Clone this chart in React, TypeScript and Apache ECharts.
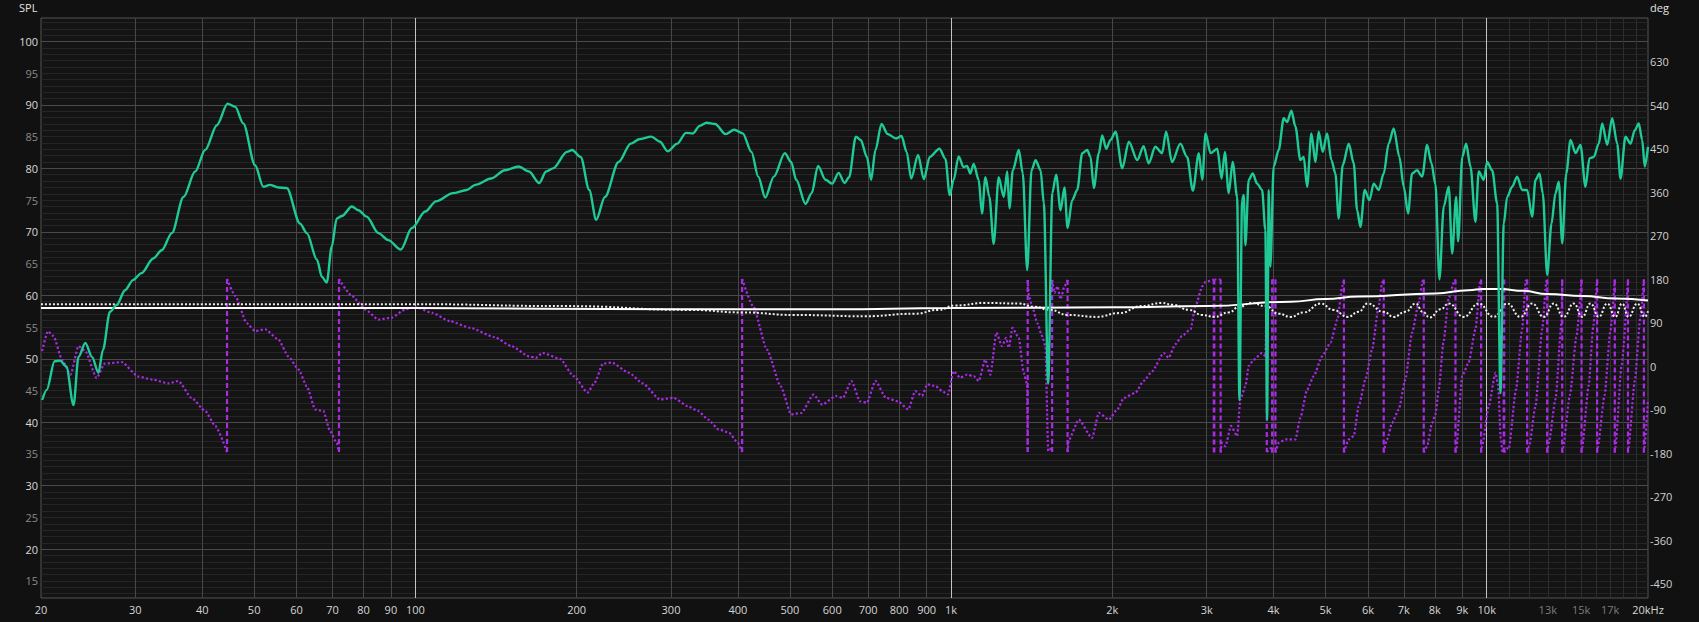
import React, { useEffect, useRef } from "react";
import * as echarts from "echarts";

// SPL magnitude curve: [frequency Hz, dB]
const splPoints: [number, number][] = [
  [20.1, 43.5], [20.5, 45.1], [21.2, 49.6], [21.7, 49.7], [22.3, 48.8], [23.0, 42.7], [23.5, 50.3],
  [24.2, 52.5], [24.9, 50.3], [25.6, 47.8], [26.1, 51.4], [26.9, 57.4], [27.7, 58.5], [28.7, 60.8],
  [29.7, 62.4], [30.8, 63.5], [32.4, 65.8], [33.6, 67.1], [35.1, 69.8], [36.9, 75.5], [38.8, 79.5],
  [40.5, 82.9], [42.6, 86.8], [44.6, 90.2], [46.1, 89.7], [47.7, 87.1], [50.2, 80.5], [52.0, 77.1],
  [53.5, 77.4], [55.5, 77.0], [57.5, 76.9], [60.9, 71.3], [62.7, 69.8], [65.5, 65.6], [66.9, 62.9],
  [68.3, 62.0], [69.8, 67.7], [71.3, 72.1], [72.9, 72.5], [76.1, 74.0], [78.3, 73.4], [81.1, 72.4],
  [85.3, 69.8], [89.0, 68.7], [93.9, 67.2], [98.5, 70.6], [104.3, 73.2], [109.2, 74.8], [117.5, 76.1],
  [124.7, 76.6], [129.4, 77.4], [138.4, 78.4], [146.9, 79.7], [155.8, 80.3], [162.9, 79.5], [170.3, 77.7],
  [175.4, 79.5], [180.7, 80.0], [191.8, 82.6], [196.1, 82.9], [203.5, 81.8], [211.1, 76.6], [217.5, 71.9],
  [225.8, 75.5], [239.5, 81.0], [252.3, 83.9], [261.8, 84.6], [275.7, 85.0], [286.1, 84.2], [295.7, 82.7],
  [308.2, 83.9], [319.9, 85.6], [329.5, 85.5], [339.4, 86.7], [349.6, 87.2], [362.8, 87.0], [379.2, 85.4],
  [393.7, 86.1], [408.5, 85.5], [423.9, 82.6], [436.6, 78.7], [449.8, 75.4], [466.8, 78.7], [489.4, 82.4],
  [502.8, 81.0], [513.9, 78.2], [534.9, 74.4], [549.3, 76.1], [564.4, 80.4], [583, 78.2], [600, 77.6],
  [616.7, 79.3], [632.6, 77.7], [645, 78.6], [664.2, 85.0], [678.1, 84.5], [696.4, 81.8], [709.1, 78.2],
  [722.5, 82.9], [741.4, 87.0], [761.4, 85.4], [790, 84.7], [808, 85.1], [826.2, 82.6], [842.4, 78.4],
  [867.7, 82.1], [889.6, 78.3], [912.5, 81.8], [951, 83.1], [976, 81.5], [994, 75.8], [1011, 78.2],
  [1033, 81.9], [1055, 80.2], [1071, 80.4], [1086, 79.2], [1102, 80.7], [1126, 78.2], [1142, 72.9],
  [1159, 78.6], [1179, 75.5], [1201, 68.1], [1227, 78.6], [1254, 75.5], [1273, 79.5], [1285, 73.7],
  [1304, 79.7], [1338, 82.9], [1361, 79.2], [1387, 64.0], [1413, 79.7], [1438, 81.3], [1469, 79.7],
  [1490, 74.5], [1518, 46.1], [1545, 76.1], [1571, 79.0], [1601, 73.4], [1628, 77.0], [1650, 70.6],
  [1683, 75.0], [1720, 76.6], [1757, 82.4], [1795, 82.9], [1821, 81.8], [1847, 76.9], [1887, 82.4],
  [1915, 85.2], [1948, 83.1], [1985, 84.5], [2028, 85.8], [2087, 80.0], [2147, 84.2], [2226, 81.3],
  [2288, 83.5], [2338, 80.8], [2406, 83.4], [2477, 82.4], [2520, 85.8], [2585, 81.0], [2679, 83.9],
  [2758, 81.8], [2827, 76.5], [2901, 82.4], [2944, 78.2], [2986, 85.5], [3051, 82.4], [3140, 83.1],
  [3199, 78.4], [3244, 82.6], [3298, 76.1], [3355, 81.0], [3420, 75.5], [3454, 43.5], [3494, 75.0],
  [3518, 75.8], [3544, 67.9], [3594, 78.2], [3657, 79.2], [3727, 77.6], [3807, 76.6], [3861, 70.3],
  [3890, 40.4], [3917, 76.6], [3945, 64.5], [4002, 80.3], [4089, 82.9], [4178, 87.9], [4239, 87.3],
  [4318, 89.1], [4393, 86.6], [4488, 81.3], [4553, 81.8], [4620, 77.1], [4706, 85.5], [4788, 81.0],
  [4856, 85.8], [4940, 82.6], [5035, 85.5], [5129, 81.3], [5217, 79.2], [5292, 72.1], [5384, 80.5],
  [5526, 83.9], [5645, 80.8], [5728, 73.4], [5810, 70.8], [5918, 76.6], [6039, 75.0], [6152, 77.6],
  [6285, 76.6], [6422, 79.2], [6560, 83.9], [6703, 86.3], [6869, 81.8], [7000, 77.1], [7131, 72.9],
  [7254, 79.2], [7412, 79.7], [7575, 78.7], [7739, 83.7], [7884, 80.8], [8021, 77.5], [8160, 62.5],
  [8312, 74.0], [8493, 77.1], [8618, 66.6], [8767, 75.5], [8843, 68.5], [9000, 81.8], [9152, 83.9],
  [9324, 80.3], [9526, 71.6], [9662, 79.5], [9872, 78.2], [10017, 81.0], [10235, 79.7], [10457, 74.5],
  [10607, 44.6], [10758, 71.3], [10917, 75.5], [11153, 77.1], [11396, 78.7], [11642, 76.6], [11897, 76.6],
  [12156, 72.4], [12330, 78.2], [12543, 79.2], [12723, 76.1], [12966, 63.2], [13208, 71.3], [13438, 76.1],
  [13629, 77.9], [13832, 68.2], [14073, 79.2], [14335, 84.5], [14647, 82.4], [14961, 83.7], [15287, 77.1],
  [15552, 81.6], [15842, 81.8], [16187, 83.9], [16426, 87.1], [16782, 83.7], [17146, 87.9], [17520, 83.9],
  [17770, 78.4], [18155, 85.0], [18551, 83.9], [18894, 86.0], [19222, 87.1], [19505, 84.5], [19724, 80.3],
  [20000, 83.4],
];

// Wrapped phase: [frequency Hz, degrees]; a wrap is two consecutive points at the same frequency
const phasePoints: [number, number][] = [
  [20.1, 31], [20.6, 72], [21.1, 62], [21.9, 13], [22.7, -18], [23.5, 41], [24.2, 31], [25.4, -25],
  [26.3, 5], [28.3, 8], [30.4, -22], [32.3, -28], [34.6, -36], [36.1, -31], [38.2, -66], [40.5, -93],
  [42.3, -124], [44.5, -178], [44.5, 180], [46.1, 145], [48.4, 89], [50.2, 72], [52.4, 76], [55.5, 55],
  [57.9, 20], [60.5, -7], [62.7, -42], [65, -90], [67.3, -93], [69.3, -135], [71.3, -159], [72.0, -178],
  [72.0, 180], [76.1, 145], [80.6, 117], [85.3, 96], [90.3, 100], [95.7, 117], [100, 122], [107.5, 110],
  [115.8, 93], [126.6, 79], [140.4, 60], [151.2, 41], [162.9, 20], [167.7, 17], [172.8, 27], [186.1, 15],
  [197.5, -21], [209.6, -55], [215.9, -35], [224, 5], [232.5, 7], [250.4, -14], [265.7, -36], [286.1, -69],
  [303.6, -66], [322.2, -83], [336.9, -93], [352.2, -111], [368.1, -131], [385, -138], [400, -159],
  [407.3, -178], [407.3, 180], [427, 124], [453.1, 34], [480.8, -42], [502.8, -100], [525.6, -97],
  [553.6, -59], [574.5, -80], [609.6, -62], [628, -66], [651.7, -31], [676, -73], [696.4, -76], [722.5, -31],
  [755.8, -66], [795.9, -73], [832, -90], [857, -52], [882.8, -62], [903, -38], [937, -42], [962, -52],
  [987, -59], [1011, -11], [1040, -24], [1071, -18], [1102, -21], [1126, -31], [1158, 13], [1184, -18],
  [1215, 69], [1245, 41], [1267, 58], [1282, 38], [1302, 79], [1338, 58], [1366, -14], [1387, -38],
  [1390, -178], [1390, 178], [1397, 145], [1417, 124], [1448, 89], [1479, 62], [1500, 41], [1518, -176],
  [1532, -172], [1544, -178], [1544, 178], [1560, 151], [1580, 165], [1601, 138], [1628, 165], [1650, 178],
  [1650, -178], [1660, -152], [1731, -111], [1833, -149], [1887, -97], [1970, -111], [2043, -90],
  [2102, -66], [2210, -55], [2288, -31], [2373, -11], [2494, 27], [2548, 17], [2622, 45], [2699, 62],
  [2799, 76], [2860, 124], [2944, 165], [2986, 174], [3094, 179], [3094, -179], [3100, -179], [3100, 179],
  [3186, 179], [3186, -179], [3199, -159], [3252, -166], [3330, -124], [3420, -145], [3468, -69],
  [3544, -42], [3594, 0], [3673, 13], [3807, 27], [3861, 20], [3885, 178], [3885, -178], [3960, -170],
  [3975, -179], [3975, 179], [3995, 175], [4032, 179], [4032, -179], [4089, -159], [4212, -152],
  [4393, -152], [4488, -107], [4620, -49], [4753, -21], [4928, 20], [5108, 48], [5262, 96], [5375, 165],
  [5412, 179], [5412, -179], [5526, -152], [5645, -145], [5767, -83], [5937, -28], [6109, 34], [6285, 124],
  [6376, 172], [6422, 179], [6422, -179], [6515, -152], [6656, -118], [6849, -90], [7048, -28], [7254, 69],
  [7466, 131], [7595, 176], [7628, 179], [7628, -179], [7739, -166], [7905, -118], [8021, -100],
  [8135, -49], [8300, 48], [8493, 141], [8704, 176], [8742, 179], [8742, -179], [8767, -173], [9000, -21],
  [9251, 7], [9526, 76], [9731, 176], [9760, 179], [9760, -179], [9802, -166], [10086, -83], [10381, -14],
  [10500, -40], [10620, -150], [10700, -178], [10758, -179], [10758, 179], [10780, 179], [10780, -179],
  [10900, -170], [10990, -172], [11340, -49], [11642, 76], [11826, 176], [11897, 179], [11897, -179],
  [12000, -166], [12330, -83], [12690, 76], [12923, 176], [12966, 179], [12966, -179], [13060, -159],
  [13438, -69], [13790, 90], [13832, 179], [13832, -179], [13870, -170], [14300, -60], [14700, 60],
  [15030, 179], [15030, -179], [15060, -170], [15500, -40], [15800, 80], [16070, 179], [16070, -179],
  [16100, -170], [16600, -60], [17000, 70], [17340, 179], [17340, -179], [17380, -170], [17850, 0],
  [18350, 179], [18350, -179], [18380, -170], [18900, -30], [19350, 100], [19650, 179], [19650, -179],
  [19680, -170], [20000, -70],
];

// White solid reference curve: [frequency Hz, dB]
const refSolidPoints: [number, number][] = [
  [20, 58.0], [100, 58.0], [300, 57.8], [600, 57.8], [1000, 58.0], [2000, 58.1], [3000, 58.3],
  [4300, 59.0], [5000, 59.4], [5767, 59.8], [8021, 60.3], [9251, 60.8], [9860, 61.0], [10600, 61.0],
  [11700, 60.7], [12966, 60.2], [15100, 59.9], [17400, 59.5], [20000, 59.2],
];

// White dotted reference curve: [frequency Hz, dB]
const refDottedPoints: [number, number][] = [
  [20, 58.6], [100, 58.6], [191, 58.3], [325, 57.7], [408, 57.3], [510, 56.9], [689, 56.7], [857, 57.1],
  [945, 57.7], [1020, 58.4], [1158, 58.8], [1338, 58.7], [1430, 58.2], [1530, 57.7], [1650, 56.9],
  [1870, 56.6], [2060, 57.2], [2270, 58.3], [2470, 58.8], [2600, 58.5], [2780, 57.7], [2944, 56.9],
  [3100, 56.6], [3300, 57.3], [3454, 58.2], [3640, 58.8], [3861, 58.3], [4089, 57.1], [4300, 56.6],
  [4550, 57.3], [4900, 58.7], [5170, 57.7], [5500, 56.6], [5767, 57.4], [5990, 58.7], [6422, 57.4],
  [6700, 56.6], [7048, 57.4], [7370, 58.7], [7595, 57.4], [7830, 56.5], [8200, 57.8], [8493, 58.7],
  [9060, 56.6], [9662, 58.7], [10300, 56.6], [10917, 58.7], [11560, 56.6], [12156, 58.7], [12780, 56.6],
  [13340, 58.7], [13920, 56.6], [14540, 58.7], [15070, 56.6], [15620, 58.7], [16187, 56.6], [16782, 58.7],
  [17380, 56.6], [17890, 58.7], [18400, 56.6], [19100, 58.7], [19724, 56.6], [20000, 57.5],
];

// Axis ticks and labels
const xLabelFreqs = [20, 30, 40, 50, 60, 70, 80, 90, 100, 200, 300, 400, 500, 600, 700, 800, 900,
  1000, 2000, 3000, 4000, 5000, 6000, 7000, 8000, 9000, 10000, 13000, 15000, 17000, 20000];
const xLabelTexts = ["20", "30", "40", "50", "60", "70", "80", "90", "100", "200", "300", "400", "500",
  "600", "700", "800", "900", "1k", "2k", "3k", "4k", "5k", "6k", "7k", "8k", "9k", "10k", "13k", "15k",
  "17k", "20kHz"];
const xDimLabelFreqs = [13000, 15000, 17000];
const xGridFreqs = [30, 40, 50, 60, 70, 80, 90, 200, 300, 400, 500, 600, 700, 800, 900,
  2000, 3000, 4000, 5000, 6000, 7000, 8000, 9000];
const xMajorGridFreqs = [100, 1000, 10000];
const xFineGridFreqs = [11000, 12000, 13000, 14000, 15000, 16000, 17000, 18000, 19000];
const splLabelValues = [15, 20, 25, 30, 35, 40, 45, 50, 55, 60, 65, 70, 75, 80, 85, 90, 95, 100];
const splMinorGrid = [13, 14, 15, 16, 17, 18, 19, 21, 22, 23, 24, 25, 26, 27, 28, 29, 31, 32, 33, 34, 35,
  36, 37, 38, 39, 41, 42, 43, 44, 45, 46, 47, 48, 49, 51, 52, 53, 54, 55, 56, 57, 58, 59, 61, 62, 63, 64,
  65, 66, 67, 68, 69, 71, 72, 73, 74, 75, 76, 77, 78, 79, 81, 82, 83, 84, 85, 86, 87, 88, 89, 91, 92, 93,
  94, 95, 96, 97, 98, 99, 101, 102, 103];
const splMajorGrid = [20, 30, 40, 50, 60, 70, 80, 90, 100];
const phaseLabelValues = [-450, -360, -270, -180, -90, 0, 90, 180, 270, 360, 450, 540, 630];

const FONT = "'Open Sans', 'Noto Sans', sans-serif";

function splitPhase(points: [number, number][]) {
  const dotted: any[] = [];
  const wraps: any[] = [];
  for (let i = 0; i < points.length; i++) {
    const p = points[i];
    const prev = points[i - 1];
    if (prev && prev[0] === p[0] && Math.abs(prev[1] - p[1]) > 300) {
      dotted.push([p[0], "-"]);
      wraps.push([prev[0], prev[1]], [p[0], p[1]], [p[0], "-"]);
    }
    dotted.push([p[0], p[1]]);
  }
  return { dotted, wraps };
}

export default function App() {
  const ref = useRef<HTMLDivElement>(null);
  useEffect(() => {
    if (!ref.current) return;
    const chart = echarts.init(ref.current, undefined, { renderer: "svg" });
    const { dotted, wraps } = splitPhase(phasePoints);
    const logX = { type: "log", logBase: 10, min: 20, max: 20000, gridIndex: 0 } as any;
    const purple = "#ab2ae8";
    chart.setOption({
      animation: false,
      backgroundColor: "#111111",
      textStyle: { fontFamily: FONT },
      grid: {
        left: 41, right: 51, top: 18, bottom: 24, show: true,
        backgroundColor: "#141414", borderColor: "#555555", borderWidth: 1,
      },
      graphic: [
        { type: "text", left: 19, top: 2, style: { text: "SPL", fill: "#e2e2e2", font: `11px ${FONT}` } },
        { type: "text", left: 1650, top: 2, style: { text: "deg", fill: "#e2e2e2", font: `11px ${FONT}` } },
      ],
      xAxis: [
        {
          ...logX,
          axisLine: { show: false },
          axisTick: { show: false, customValues: xGridFreqs },
          splitLine: { show: true, lineStyle: { color: "#474747", width: 1 } },
          axisLabel: {
            customValues: xLabelFreqs,
            showMinLabel: true,
            showMaxLabel: true,
            margin: 6,
            formatter: (v: number) => {
              const i = xLabelFreqs.findIndex((f) => Math.abs(f - v) < f * 1e-6);
              const t = i >= 0 ? xLabelTexts[i] : "";
              return xDimLabelFreqs.some((f) => Math.abs(f - v) < f * 1e-6) ? `{d|${t}}` : `{n|${t}}`;
            },
            rich: {
              n: { color: "#d6d6d6", fontSize: 11, fontFamily: FONT },
              d: { color: "#7c7c7c", fontSize: 11, fontFamily: FONT },
            },
          },
        },
        {
          ...logX,
          axisLine: { show: false },
          axisLabel: { show: false },
          axisTick: { show: false, customValues: xFineGridFreqs },
          splitLine: { show: true, lineStyle: { color: "#2d2d2d", width: 1 } },
        },
        {
          ...logX,
          axisLine: { show: false },
          axisLabel: { show: false },
          axisTick: { show: false, customValues: xMajorGridFreqs },
          splitLine: { show: true, lineStyle: { color: "#c4c4c4", width: 1 } },
        },
      ],
      yAxis: [
        {
          type: "value", min: 12.3, max: 103.7, position: "left",
          axisLine: { show: false },
          axisTick: { show: false, customValues: splMinorGrid },
          splitLine: { show: true, lineStyle: { color: "#252525", width: 1 } },
          axisLabel: {
            customValues: splLabelValues,
            margin: 3,
            formatter: (v: number) => (Math.round(v) % 10 === 0 ? `{b|${v}}` : `{d|${v}}`),
            rich: {
              b: { color: "#dadada", fontSize: 11, fontFamily: FONT },
              d: { color: "#8a8a8a", fontSize: 11, fontFamily: FONT },
            },
          },
        },
        {
          type: "value", min: 12.3, max: 103.7, position: "left",
          axisLine: { show: false },
          axisLabel: { show: false },
          axisTick: { show: false, customValues: splMajorGrid },
          splitLine: { show: true, lineStyle: { color: "#4a4a4a", width: 1 } },
        },
        {
          type: "value", min: -480, max: 720, position: "right",
          axisLine: { show: false },
          axisTick: { show: false },
          splitLine: { show: false },
          axisLabel: {
            customValues: phaseLabelValues,
            margin: 2,
            color: "#d0d0d0",
            fontSize: 11,
            fontFamily: FONT,
          },
        },
      ],
      series: [
        {
          name: "phase", type: "line", xAxisIndex: 0, yAxisIndex: 2, data: dotted,
          showSymbol: false, smooth: 0.2, smoothMonotone: "x", connectNulls: false, z: 2,
          lineStyle: { color: purple, width: 2.2, type: "dotted" },
        },
        {
          name: "phase wrap", type: "line", xAxisIndex: 0, yAxisIndex: 2, data: wraps,
          showSymbol: false, connectNulls: false, z: 2,
          lineStyle: { color: purple, width: 2.2, type: [5, 3] },
        },
        {
          name: "ref dotted", type: "line", xAxisIndex: 0, yAxisIndex: 0, data: refDottedPoints,
          showSymbol: false, smooth: 0.5, smoothMonotone: "x", z: 3,
          lineStyle: { color: "#eeeeee", width: 2, type: "dotted" },
        },
        {
          name: "ref solid", type: "line", xAxisIndex: 0, yAxisIndex: 0, data: refSolidPoints,
          showSymbol: false, smooth: 0.5, smoothMonotone: "x", z: 3,
          lineStyle: { color: "#ffffff", width: 2 },
        },
        {
          name: "SPL", type: "line", xAxisIndex: 0, yAxisIndex: 0, data: splPoints,
          showSymbol: false, smooth: 0.3, smoothMonotone: "x", z: 4,
          lineStyle: { color: "#1fca97", width: 2.4 },
        },
      ],
    });
    return () => chart.dispose();
  }, []);
  return (
    <div
      ref={ref}
      style={{ position: "absolute", left: 0, top: 0, width: 1699, height: 622 }}
    />
  );
}
